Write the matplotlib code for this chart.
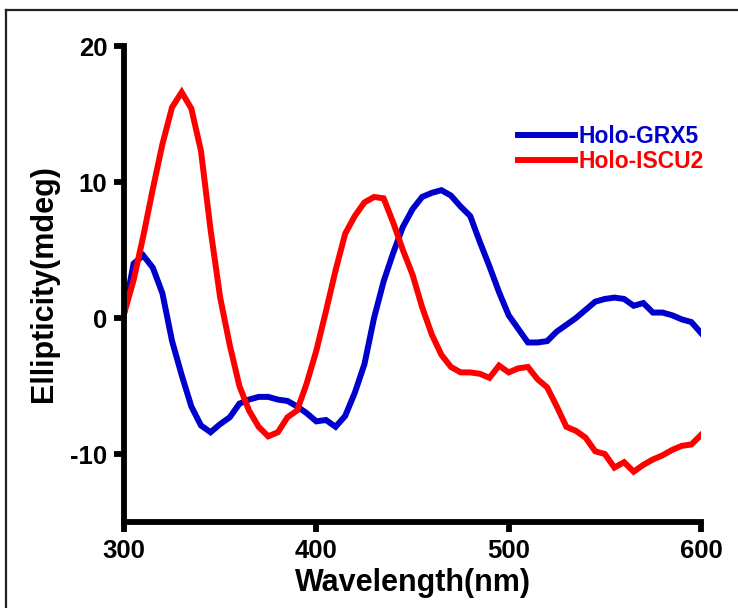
import numpy as np
import matplotlib.pyplot as plt
from matplotlib.lines import Line2D

plt.rcParams['font.family'] = ['Liberation Sans', 'DejaVu Sans']
plt.rcParams['font.weight'] = 'bold'

# longitud de onda (nm), cada 5 nm
wavelength = list(range(300, 605, 5))

grx5 = [0.3, 4.0, 4.6, 3.7, 1.8, -1.7, -4.2, -6.5, -7.9, -8.4,
        -7.8, -7.3, -6.3, -6.0, -5.8, -5.8, -6.0, -6.1, -6.5, -7.0,
        -7.6, -7.5, -8.0, -7.2, -5.5, -3.4, 0.0, 2.7, 4.8, 6.7,
        8.0, 8.9, 9.2, 9.4, 9.0, 8.2, 7.5, 5.6, 3.8, 1.9,
        0.2, -0.8, -1.8, -1.8, -1.7, -1.0, -0.5, 0.0, 0.6, 1.2,
        1.4, 1.5, 1.4, 0.9, 1.1, 0.4, 0.4, 0.2, -0.1, -0.3,
        -1.1]

iscu2 = [0.3, 2.8, 6.0, 9.5, 12.8, 15.5, 16.6, 15.4, 12.3, 6.5,
         1.5, -2.0, -5.0, -6.8, -8.0, -8.7, -8.4, -7.3, -6.8, -4.8,
         -2.4, 0.5, 3.5, 6.2, 7.5, 8.5, 8.9, 8.8, 7.0, 5.0,
         3.2, 0.8, -1.2, -2.7, -3.6, -4.0, -4.0, -4.1, -4.4, -3.5,
         -4.0, -3.7, -3.6, -4.5, -5.1, -6.5, -8.0, -8.3, -8.8, -9.8,
         -10.0, -11.0, -10.6, -11.3, -10.8, -10.4, -10.1, -9.7, -9.4, -9.3,
         -8.6]

series_names = ['Holo-GRX5', 'Holo-ISCU2']
series_colors = ['#0000CC', '#FF0000']

x_ticks = [300, 400, 500, 600]
y_ticks = [-10, 0, 10, 20]

fig = plt.figure(figsize=(7.38, 6.08), dpi=100)
ax = fig.add_axes([124 / 738, 86 / 608, 577 / 738, 476 / 608])

for vals, name, col in zip([grx5, iscu2], series_names, series_colors):
    ax.plot(wavelength, vals, color=col, lw=4.3, label=name,
            solid_joinstyle='miter')

ax.set_xlim(300, 600)
ax.set_ylim(-15, 20)
ax.set_xticks(x_ticks)
ax.set_yticks(y_ticks)
ax.set_xticklabels([str(t) for t in x_ticks])
ax.set_yticklabels([str(t) for t in y_ticks])

for s in ['top', 'right']:
    ax.spines[s].set_visible(False)
for s in ['left', 'bottom']:
    ax.spines[s].set_linewidth(4.2)
    ax.spines[s].set_capstyle('projecting')

ax.tick_params(direction='out', length=7, width=4.2, labelsize=18.5, pad=5)
for lab in ax.get_xticklabels() + ax.get_yticklabels():
    lab.set_fontweight('bold')

ax.set_xlabel('Wavelength(nm)', fontsize=22, fontweight='bold', labelpad=4)
ax.set_ylabel('Ellipticity(mdeg)', fontsize=22, fontweight='bold', labelpad=8)

leg = ax.legend(loc='upper left', bbox_to_anchor=(0.682, 0.834), frameon=False,
                fontsize=16.5, handlelength=2.5, handletextpad=0.15,
                labelspacing=0.1, borderpad=0, borderaxespad=0)
for txt, col in zip(leg.get_texts(), series_colors):
    txt.set_color(col)
    txt.set_fontweight('bold')
for h in leg.get_lines():
    h.set_linewidth(4.3)

# marco alrededor de la figura
fig.add_artist(Line2D([6 / 738, 6 / 738], [0, 1 - 10 / 608], color='#222222',
                      lw=1.6, transform=fig.transFigure))
fig.add_artist(Line2D([6 / 738, 1], [1 - 10 / 608, 1 - 10 / 608], color='#222222',
                      lw=1.6, transform=fig.transFigure))

fig.savefig('out.png', dpi=100)
